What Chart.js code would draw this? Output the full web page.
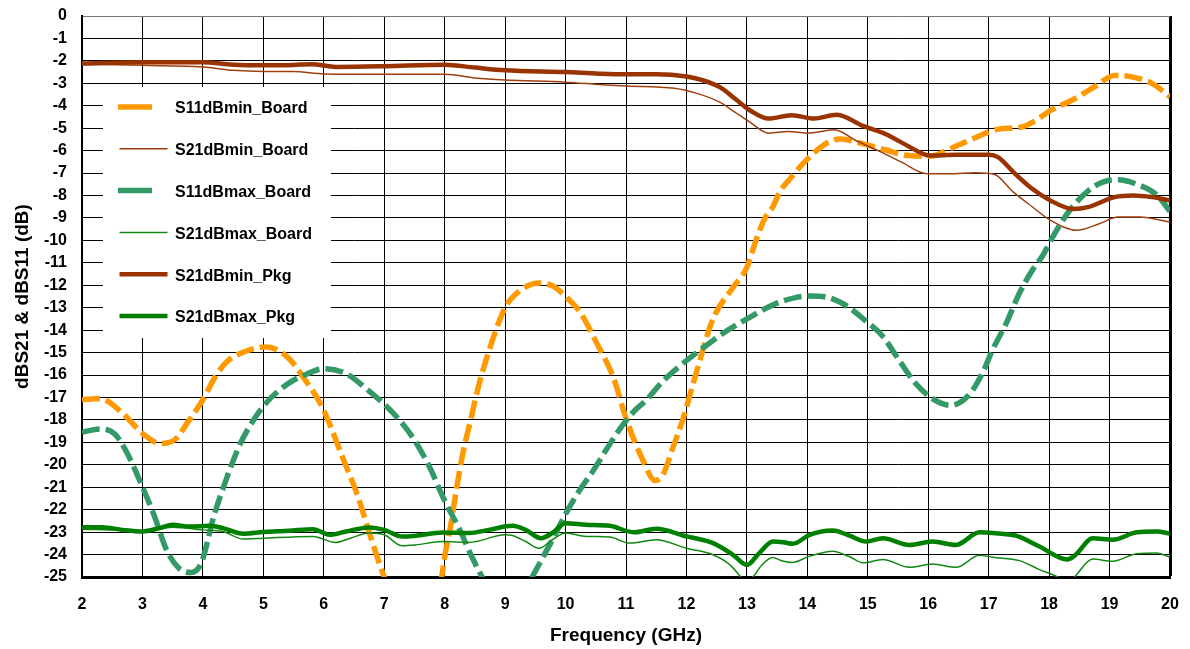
<!DOCTYPE html>
<html>
<head>
<meta charset="utf-8">
<title>dBS21 &amp; dBS11</title>
<script src="https://cdn.jsdelivr.net/npm/chart.js@4.4.1/dist/chart.umd.min.js"></script>
<style>
    html, body { margin: 0; padding: 0; background: #fff; }
    #wrap { width: 1190px; height: 649px; }
</style>
</head>
<body>
<div id="wrap"><canvas id="chartSParam" width="1190" height="649"></canvas></div>
<script>
// Valori (GHz / dB)
const s11MinBoardFreq = [2.0, 2.3, 2.65, 3.0, 3.3, 3.55, 3.75, 4.0, 4.2, 4.4, 4.7, 5.05, 5.4, 5.7, 5.95, 6.1, 6.3, 6.55, 6.75, 7.0, 7.25, 7.5, 7.75, 7.95, 8.0, 8.1, 8.2, 8.3, 8.43, 8.56, 8.7, 9.0, 9.24, 9.57, 9.8, 10.0, 10.24, 10.52, 10.79, 11.01, 11.28, 11.48, 11.61, 11.78, 11.95, 12.12, 12.44, 12.77, 13.0, 13.15, 13.3, 13.43, 13.55, 13.7, 13.92, 14.3, 14.55, 14.92, 15.3, 15.67, 16.03, 16.4, 16.8, 17.16, 17.53, 17.77, 18.02, 18.4, 18.77, 19.08, 19.3, 19.7, 20.0];
const s11MinBoardDb   = [-17.1, -17.05, -17.65, -18.6, -19.05, -18.85, -18.1, -17.1, -16.1, -15.4, -14.95, -14.75, -15.2, -16.25, -17.3, -18.2, -19.6, -21.3, -23.0, -25.0, -26.5, -27.2, -26.5, -25.0, -24.1, -22.7, -21.0, -19.5, -18.0, -16.5, -15.2, -13.0, -12.25, -11.9, -12.05, -12.5, -13.2, -14.6, -16.1, -18.0, -19.8, -20.7, -20.45, -19.2, -17.9, -16.3, -13.5, -12.1, -11.2, -10.0, -9.0, -8.5, -7.8, -7.3, -6.6, -5.7, -5.48, -5.7, -5.97, -6.22, -6.25, -5.87, -5.4, -5.04, -4.96, -4.67, -4.22, -3.72, -3.12, -2.65, -2.68, -3.0, -3.6];

const s21MinBoardFreq = [2.0, 3.0, 4.0, 4.5, 5.0, 5.5, 6.0, 7.0, 8.0, 8.5, 9.0, 10.0, 10.6, 11.0, 11.8, 12.2, 12.55, 12.8, 13.05, 13.36, 13.68, 14.0, 14.45, 14.8, 15.17, 15.55, 15.98, 16.35, 16.78, 17.09, 17.41, 17.72, 18.02, 18.46, 18.83, 19.14, 19.5, 20.0];
const s21MinBoardDb   = [-2.15, -2.2, -2.27, -2.42, -2.47, -2.47, -2.58, -2.6, -2.6, -2.76, -2.85, -2.95, -3.06, -3.12, -3.22, -3.47, -3.84, -4.28, -4.73, -5.22, -5.15, -5.22, -5.07, -5.55, -6.0, -6.5, -7.03, -7.03, -6.98, -7.05, -7.85, -8.5, -9.1, -9.55, -9.26, -8.96, -8.96, -9.18];

const s11MaxBoardFreq = [2.0, 2.3, 2.55, 2.75, 2.97, 3.2, 3.4, 3.6, 3.8, 3.97, 4.18, 4.4, 4.62, 4.84, 5.06, 5.4, 5.72, 6.0, 6.38, 6.7, 7.0, 7.25, 7.5, 7.75, 8.0, 8.25, 8.45, 8.62, 8.9, 9.1, 9.3, 9.45, 9.55, 9.75, 10.02, 10.24, 10.46, 10.68, 10.9, 11.12, 11.34, 11.6, 11.89, 12.22, 12.6, 13.0, 13.45, 13.8, 14.05, 14.3, 14.64, 14.97, 15.24, 15.52, 15.8, 16.07, 16.37, 16.67, 16.9, 17.06, 17.29, 17.5, 17.73, 17.9, 18.08, 18.33, 18.64, 18.89, 19.14, 19.45, 19.77, 20.0];
const s11MaxBoardDb   = [-18.55, -18.4, -18.65, -19.5, -20.8, -22.3, -23.8, -24.6, -24.8, -24.4, -22.3, -20.55, -19.05, -18.0, -17.2, -16.4, -15.95, -15.72, -15.95, -16.6, -17.3, -18.0, -18.9, -20.1, -21.6, -22.9, -24.1, -25.0, -26.3, -26.6, -26.0, -25.0, -24.5, -23.5, -22.1, -21.1, -20.25, -19.3, -18.4, -17.65, -17.1, -16.3, -15.6, -14.9, -14.15, -13.5, -12.85, -12.55, -12.48, -12.52, -12.9, -13.6, -14.25, -15.35, -16.4, -17.05, -17.35, -16.9, -15.9, -14.9, -13.7, -12.4, -11.3, -10.65, -9.75, -8.7, -7.8, -7.4, -7.3, -7.5, -7.95, -8.7];

const s21MaxBoardFreq = [2.0, 2.67, 3.0, 3.5, 4.0, 4.33, 4.67, 5.0, 5.82, 6.19, 6.44, 6.75, 7.0, 7.3, 7.52, 7.97, 8.4, 9.0, 9.12, 9.34, 9.56, 9.78, 10.0, 10.34, 10.73, 11.06, 11.5, 12.0, 12.44, 12.72, 12.9, 13.0, 13.1, 13.27, 13.43, 13.55, 13.75, 14.04, 14.42, 14.7, 14.92, 15.25, 15.69, 16.07, 16.46, 16.85, 17.07, 17.51, 17.84, 18.14, 18.3, 18.42, 18.72, 19.05, 19.45, 19.78, 20.0];
const s21MaxBoardDb   = [-22.87, -22.93, -23.0, -22.78, -22.9, -22.97, -23.31, -23.27, -23.19, -23.46, -23.27, -23.04, -23.12, -23.61, -23.57, -23.42, -23.46, -23.12, -23.15, -23.42, -23.72, -23.34, -23.04, -23.19, -23.22, -23.49, -23.34, -23.72, -24.01, -24.46, -25.0, -25.3, -25.0, -24.4, -24.13, -24.25, -24.35, -24.07, -23.85, -24.1, -24.37, -24.22, -24.57, -24.42, -24.57, -24.03, -24.12, -24.27, -24.67, -25.0, -25.3, -25.0, -24.2, -24.3, -23.96, -23.93, -24.12];

const s21MinPkgFreq = [2.0, 3.0, 4.0, 4.5, 5.0, 5.5, 5.8, 6.2, 7.0, 8.0, 8.5, 9.0, 10.0, 10.55, 11.0, 11.5, 12.0, 12.25, 12.56, 12.81, 13.05, 13.36, 13.74, 14.11, 14.49, 14.92, 15.3, 15.67, 16.03, 16.47, 17.0, 17.16, 17.41, 17.72, 18.02, 18.4, 18.64, 19.08, 19.39, 19.7, 20.0];
const s21MinPkgDb   = [-2.12, -2.06, -2.06, -2.17, -2.2, -2.18, -2.15, -2.27, -2.24, -2.17, -2.3, -2.42, -2.5, -2.57, -2.6, -2.6, -2.7, -2.85, -3.18, -3.7, -4.2, -4.57, -4.42, -4.57, -4.4, -4.9, -5.27, -5.8, -6.22, -6.18, -6.18, -6.3, -6.96, -7.7, -8.22, -8.6, -8.52, -8.07, -8.0, -8.07, -8.22];

const s21MaxPkgFreq = [2.0, 2.33, 2.67, 3.0, 3.28, 3.5, 3.78, 4.11, 4.33, 4.67, 5.0, 5.43, 5.82, 6.1, 6.37, 6.75, 7.0, 7.3, 7.52, 7.97, 8.4, 8.73, 9.12, 9.34, 9.59, 9.78, 10.0, 10.34, 10.73, 11.14, 11.5, 12.0, 12.44, 12.77, 13.0, 13.2, 13.43, 13.6, 13.76, 14.04, 14.42, 14.7, 14.97, 15.25, 15.69, 16.07, 16.46, 16.85, 17.07, 17.45, 17.84, 18.3, 18.44, 18.72, 19.05, 19.45, 19.78, 20.0];
const s21MaxPkgDb   = [-22.78, -22.78, -22.9, -22.97, -22.82, -22.67, -22.75, -22.72, -22.82, -23.07, -23.0, -22.94, -22.87, -23.12, -22.97, -22.79, -22.9, -23.2, -23.16, -23.02, -23.04, -22.9, -22.72, -22.9, -23.27, -23.04, -22.6, -22.67, -22.72, -23.01, -22.85, -23.19, -23.49, -24.01, -24.46, -23.95, -23.42, -23.45, -23.52, -23.12, -22.93, -23.16, -23.42, -23.27, -23.57, -23.42, -23.57, -23.01, -23.04, -23.16, -23.64, -24.22, -24.01, -23.27, -23.34, -23.01, -22.97, -23.07];

const seriesLabels = ['S11dBmin_Board', 'S21dBmin_Board', 'S11dBmax_Board', 'S21dBmax_Board', 'S21dBmin_Pkg', 'S21dBmax_Pkg'];
const freqTicks = { min: 2, max: 20, step: 1 };
const dbTicks = { min: -25, max: 0, step: 1 };

const FONT = "'Liberation Sans', Arial, Helvetica, sans-serif";

function toPoints(freqs, values) {
    return freqs.map((f, i) => ({ x: f, y: values[i] }));
}

function makeDataset(idx, freqs, values, color, width, dash) {
    return {
        label: seriesLabels[idx],
        data: toPoints(freqs, values),
        borderColor: color,
        backgroundColor: color,
        borderWidth: width,
        borderDash: dash,
        borderCapStyle: 'butt',
        pointRadius: 0,
        pointHoverRadius: 0,
        cubicInterpolationMode: 'monotone',
        fill: false,
        clip: 0,
        order: 10 - idx
    };
}

// Legenda dentro l'area del grafico, con sfondo bianco
const legendBox = {
    id: 'legendBox',
    afterDraw(chart) {
        const ctx = chart.ctx;
        ctx.save();
        ctx.fillStyle = '#ffffff';
        ctx.fillRect(103, 87, 228, 251);
        ctx.font = 'bold 16px ' + FONT;
        ctx.textBaseline = 'middle';
        ctx.textAlign = 'left';
        chart.data.datasets.forEach((ds, i) => {
            const y = 108 + i * 41.8;
            const dashed = ds.borderDash && ds.borderDash.length > 0;
            const x0 = dashed ? 118 : 119.5;
            const x1 = dashed ? 152 : 167.5;
            ctx.beginPath();
            ctx.setLineDash([]);
            ctx.lineCap = 'butt';
            ctx.strokeStyle = ds.borderColor;
            ctx.lineWidth = ds.borderWidth;
            ctx.moveTo(x0, y - 1);
            ctx.lineTo(x1, y - 1);
            ctx.stroke();
            ctx.fillStyle = '#000';
            ctx.fillText(ds.label, 175, y + 1);
        });
        ctx.restore();
    }
};

const ctxChart = document.getElementById('chartSParam').getContext('2d');
const chart = new Chart(ctxChart, {
    type: 'line',
    data: {
        datasets: [
            makeDataset(0, s11MinBoardFreq, s11MinBoardDb, '#ff9900', 5.5, [18, 6]),
            makeDataset(1, s21MinBoardFreq, s21MinBoardDb, '#a0400c', 1.5, []),
            makeDataset(2, s11MaxBoardFreq, s11MaxBoardDb, '#339966', 5.5, [18, 6]),
            makeDataset(3, s21MaxBoardFreq, s21MaxBoardDb, '#118811', 1.5, []),
            makeDataset(4, s21MinPkgFreq, s21MinPkgDb, '#993300', 4.5, []),
            makeDataset(5, s21MaxPkgFreq, s21MaxPkgDb, '#008000', 4.5, [])
        ]
    },
    options: {
        responsive: false,
        animation: false,
        devicePixelRatio: 1,
        layout: { padding: { top: 16, right: 20, left: 0, bottom: 0 } },
        plugins: {
            legend: { display: false },
            tooltip: { enabled: false }
        },
        scales: {
            x: {
                type: 'linear',
                min: freqTicks.min,
                max: freqTicks.max,
                afterFit: (scale) => {
                    scale.height = 72;
                    scale.paddingLeft = 0;
                    scale.paddingRight = 0;
                },
                ticks: {
                    stepSize: freqTicks.step,
                    autoSkip: false,
                    color: '#000',
                    padding: 18,
                    maxRotation: 0,
                    font: { family: FONT, size: 16, weight: 'bold' }
                },
                grid: {
                    color: '#000',
                    lineWidth: (c) => (c.tick && c.tick.value === freqTicks.max ? 3 : 1),
                    drawTicks: false
                },
                border: { display: true, color: '#000', width: 3 },
                title: {
                    display: true,
                    text: 'Frequency (GHz)',
                    color: '#000',
                    padding: { top: 0, bottom: 2 },
                    font: { family: FONT, size: 19, weight: 'bold' }
                }
            },
            y: {
                min: dbTicks.min,
                max: dbTicks.max,
                afterFit: (scale) => {
                    scale.width = 82;
                    scale.paddingTop = 0;
                    scale.paddingBottom = 0;
                },
                ticks: {
                    stepSize: dbTicks.step,
                    autoSkip: false,
                    color: '#000',
                    padding: 15,
                    font: { family: FONT, size: 16, weight: 'bold' }
                },
                grid: {
                    color: (c) => (c.tick && c.tick.value === dbTicks.max ? '#777' : '#000'),
                    lineWidth: 1,
                    drawTicks: false
                },
                border: { display: true, color: '#000', width: 2 },
                title: {
                    display: true,
                    text: 'dBS21 & dBS11 (dB)',
                    color: '#000',
                    padding: { top: 11, bottom: 0 },
                    font: { family: FONT, size: 19, weight: 'bold' }
                }
            }
        }
    },
    plugins: [legendBox]
});
</script>
</body>
</html>
